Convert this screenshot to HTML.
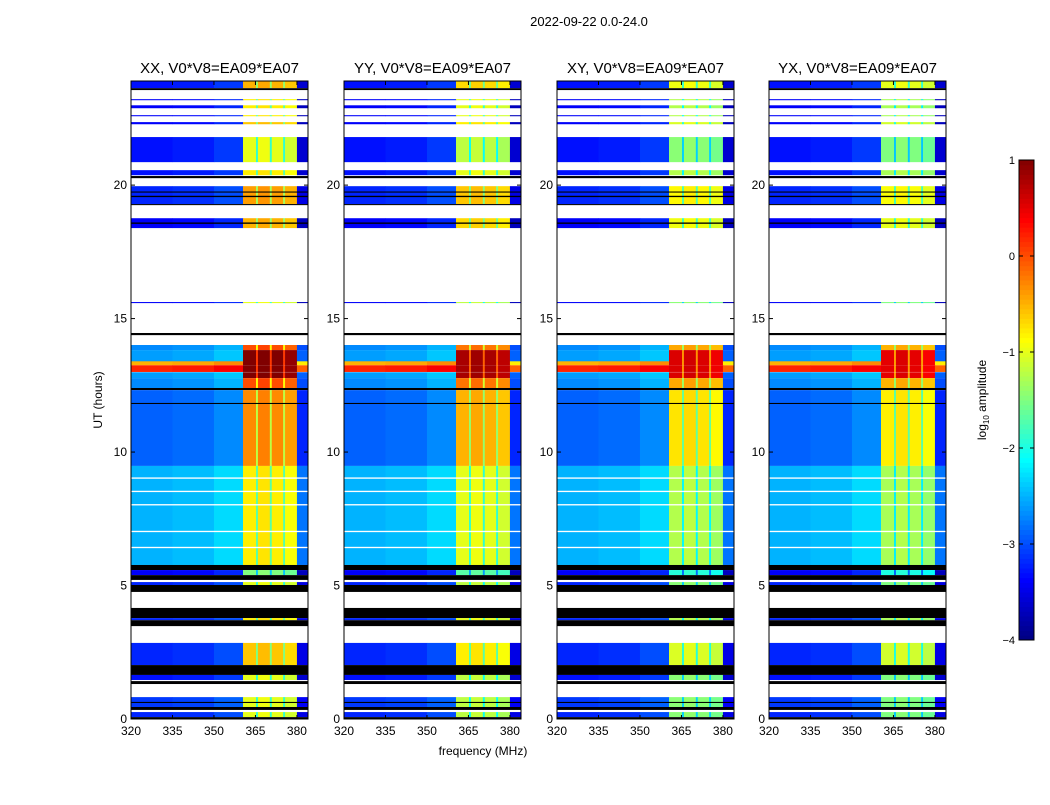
<!DOCTYPE html>
<html><head><meta charset="utf-8"><style>
body{margin:0;background:#fff;width:1050px;height:800px;overflow:hidden;font-family:"Liberation Sans",sans-serif}
svg text{font-family:"Liberation Sans",sans-serif}
</style></head><body>
<svg id="fig" width="1050" height="800" xmlns="http://www.w3.org/2000/svg">
<text x="589" y="26" text-anchor="middle" font-size="13">2022-09-22 0.0-24.0</text>
<text x="483" y="755" text-anchor="middle" font-size="12">frequency (MHz)</text>
<text transform="translate(102,400) rotate(-90)" text-anchor="middle" font-size="12">UT (hours)</text>
<g id="panels"></g>
<g id="cbar"></g>
<text transform="translate(986,400) rotate(-90)" text-anchor="middle" font-size="12">log<tspan font-size="8" dy="3">10</tspan><tspan dy="-3"> amplitude</tspan></text>
</svg>
<script>
const panelTitles=["XX, V0*V8=EA09*EA07","YY, V0*V8=EA09*EA07","XY, V0*V8=EA09*EA07","YX, V0*V8=EA09*EA07"];
const panelLeft=[131,344,557,769];
const xTicks=[320,335,350,365,380];
const yTicks=[0,5,10,15,20];
const cbTicks=[1,0,-1,-2,-3,-4];
const freqEdges=[320,335,350,360.5,365.2,365.9,370.2,370.9,375,375.7,380,384];
const segKind=["lo","lo","lo","hi","gap","hi","gap","hi","gap","hi","lo"];
const segOffset=[0,0.05,0.2,0,-0.9,0.05,-0.9,0,-0.9,-0.1,-0.3];
const hiOffset=[0,-0.2,-0.45,-0.5];
const bands=[
[23.63,23.9,'d',-3.3,-0.5],[23.56,23.63,'k'],[23.18,23.22,'d',-3.4,-0.8],[22.88,22.99,'d',-3.4,-0.8],
[22.58,22.62,'d',-3.4,-0.8],[22.28,22.36,'d',-3.4,-0.6],[20.86,21.80,'d',-3.3,-1],[20.37,20.56,'d',-3.3,-0.8],
[20.26,20.34,'k'],[19.29,19.96,'d',-3.2,-0.4],[19.55,19.6,'k'],[19.72,19.76,'k'],[19.25,19.29,'k'],
[18.39,18.76,'d',-3.4,-0.5],[18.55,18.6,'k'],[15.58,15.62,'d',-3.4,-1],[14.38,14.46,'k'],
[13.82,14.01,'d',-2.7,0],[13.33,13.82,'d',-2.6,1],[13.25,13.4,'d',-0.5,1],[13.0,13.25,'d',0.2,1],
[12.77,12.99,'d',-2.6,1],[12.40,12.77,'d',-2.7,0],[12.32,12.40,'k'],[9.48,12.32,'d',-2.9,-0.3],
[11.8,11.84,'k'],[5.77,9.48,'d',-2.5,-0.8],[9.0,9.05,'w'],[8.0,8.05,'w'],[7.0,7.05,'w'],[6.4,6.45,'w'],[8.5,8.55,'w'],
[5.58,5.77,'k'],[5.39,5.58,'d',-3.4,-1.5],[5.21,5.39,'k'],[5.02,5.13,'d',-3.2,-1],[4.76,5.02,'k'],
[3.78,4.16,'k'],[3.70,3.78,'d',-3.2,-0.8],[3.48,3.70,'k'],[2.02,2.85,'d',-3.2,-0.6],[1.65,2.02,'k'],
[1.46,1.65,'d',-3.3,-1],[1.31,1.42,'k'],[0.45,0.82,'d',-3.1,-1],[0.6,0.64,'k'],[0.34,0.45,'k'],
[0.07,0.26,'d',-3.2,-1],[0,0.07,'k']];
const NS="http://www.w3.org/2000/svg";
const PW=177,PT=81,PB=719,XMIN=320,XMAX=384,YMIN=0,YMAX=23.9;
function xs(f,L){return L+(f-XMIN)/(XMAX-XMIN)*PW;}
function ys(t){return PB-(t-YMIN)/(YMAX-YMIN)*(PB-PT);}
function jet(v){let t=Math.max(0,Math.min(1,(v+4)/5));
 const r=Math.max(0,Math.min(1,1.5-Math.abs(4*t-3))),g=Math.max(0,Math.min(1,1.5-Math.abs(4*t-2))),b=Math.max(0,Math.min(1,1.5-Math.abs(4*t-1)));
 return `rgb(${Math.round(r*255)},${Math.round(g*255)},${Math.round(b*255)})`;}
function mk(tag,attrs,parent){const e=document.createElementNS(NS,tag);for(const k in attrs)e.setAttribute(k,attrs[k]);parent.appendChild(e);return e;}
const root=document.getElementById('panels');
panelLeft.forEach((L,p)=>{
 const g=mk('g',{},root);
 
 
 const hm=mk('g',{},g);
 
 
 bands.forEach(b=>{
  const y0=ys(b[1]),y1=ys(b[0]);
  if(b[2]!=='d'){const r=mk('rect',{x:L,y:y0,width:PW,height:Math.max(0.8,y1-y0),fill:b[2]==='k'?'#000':'#fff'},hm);
   return;}
  for(let s=0;s<segKind.length;s++){
   const base=segKind[s]==='lo'?b[3]:b[4]+hiOffset[p];
   const v=base+segOffset[s];
   const x0=xs(freqEdges[s],L),x1=xs(freqEdges[s+1],L);
   const r=mk('rect',{x:x0,y:y0,width:x1-x0+0.3,height:Math.max(0.8,y1-y0),fill:jet(v)},hm);
   
   
  }
 });
 const fr=mk('rect',{x:L,y:PT,width:PW,height:PB-PT,fill:'none',stroke:'#000','stroke-width':1},g);
 
 const tt=mk('text',{x:L+PW/2,y:PT-8,'text-anchor':'middle','font-size':15},g);tt.textContent=panelTitles[p];
 
 xTicks.forEach(f=>{const x=xs(f,L);
  mk('line',{x1:x,x2:x,y1:PB,y2:PB-4,stroke:'#000'},g);mk('line',{x1:x,x2:x,y1:PT,y2:PT+4,stroke:'#000'},g);
  const t=mk('text',{x:x,y:PB+16,'text-anchor':'middle','font-size':12},g);t.textContent=f;
  });
 yTicks.forEach(v=>{const y=ys(v);
  mk('line',{x1:L,x2:L+4,y1:y,y2:y,stroke:'#000'},g);mk('line',{x1:L+PW,x2:L+PW-4,y1:y,y2:y,stroke:'#000'},g);
  const t=mk('text',{x:L-4,y:y+4,'text-anchor':'end','font-size':12},g);t.textContent=v;
  });
});
const cb=document.getElementById('cbar');
const CX=1019,CW=15,CT=160,CB=640;
for(let i=0;i<100;i++){const v=-4+5*i/100;const y=CB-(i+1)*(CB-CT)/100;
 const r=mk('rect',{x:CX,y:y,width:CW,height:(CB-CT)/100+0.5,fill:jet(v+0.025)},cb);
 }
mk('rect',{x:CX,y:CT,width:CW,height:CB-CT,fill:'none',stroke:'#000'},cb);
cbTicks.forEach(v=>{const y=CB-(v+4)/5*(CB-CT);
 mk('line',{x1:CX,x2:CX+4,y1:y,y2:y,stroke:'#000'},cb);mk('line',{x1:CX+CW,x2:CX+CW-4,y1:y,y2:y,stroke:'#000'},cb);
 const t=mk('text',{x:CX-4,y:y+4,'text-anchor':'end','font-size':11},cb);t.textContent=v<0?'\u2212'+(-v):v;
 });
</script>
</body></html>
